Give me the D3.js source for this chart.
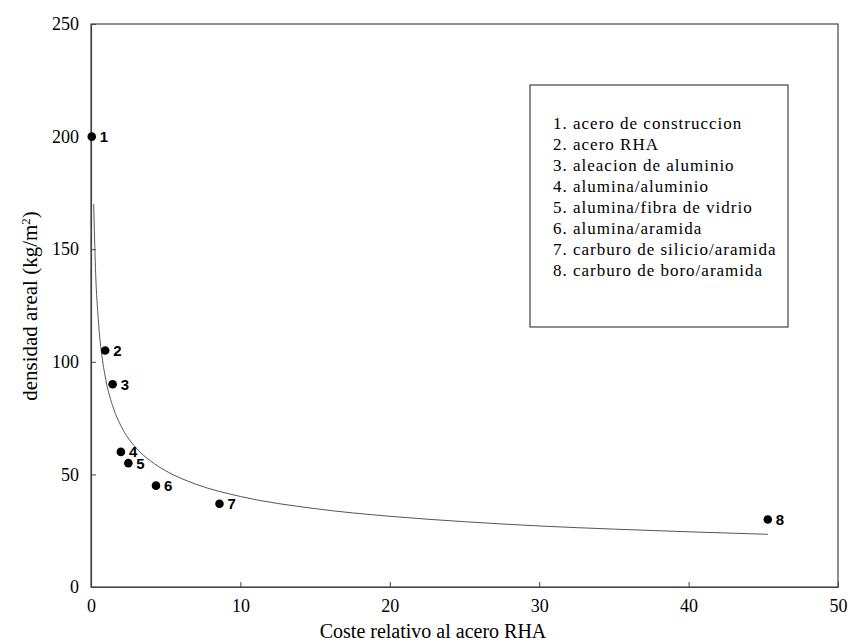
<!DOCTYPE html>
<html><head><meta charset="utf-8">
<script src="https://cdn.jsdelivr.net/npm/d3@7"></script>
<style>body{margin:0;background:#fff}svg{display:block}</style>
</head><body><svg id="c" width="853" height="643"></svg>
<script>
// Data
const ids = [1, 2, 3, 4, 5, 6, 7, 8];
const costs = [0.05, 0.95, 1.45, 2.0, 2.5, 4.35, 8.6, 45.3];
const densities = [200, 105, 90, 60, 55, 45, 37, 30];
const legendLabels = [
  "1. acero de construccion",
  "2. acero RHA",
  "3. aleacion de aluminio",
  "4. alumina/aluminio",
  "5. alumina/fibra de vidrio",
  "6. alumina/aramida",
  "7. carburo de silicio/aramida",
  "8. carburo de boro/aramida"
];
// trend curve
const curveX = [0.18, 0.3, 0.5, 0.75, 1, 1.5, 2, 3, 4, 5, 7, 10, 15, 20, 25, 30, 35, 40, 45.3];
const curveY = [170, 141.4, 117.7, 101.8, 91.8, 79.4, 71.6, 61.9, 55.9, 51.6, 45.7, 40.2, 34.8, 31.4, 29.0, 27.1, 25.7, 24.5, 23.4];
const xTicks = [0, 10, 20, 30, 40, 50];
const yTicks = [0, 50, 100, 150, 200, 250];

const svg = d3.select("#c");
const L = 91, R = 838, T = 24, B = 587;
const x = d3.scaleLinear().domain([0, 50]).range([L, R]);
const y = d3.scaleLinear().domain([0, 250]).range([B, T]);
const serif = "'Liberation Serif', 'Times New Roman', serif";
const axisColor = "#444";

// frame
svg.append("rect").attr("x", L).attr("y", T).attr("width", R - L).attr("height", B - T)
  .attr("fill", "none").attr("stroke", axisColor).attr("stroke-width", 1.2);

// axes with inward ticks
const xAxis = svg.append("g").attr("transform", `translate(0,${B})`)
  .call(d3.axisBottom(x).tickValues(xTicks).tickSizeInner(-5).tickSizeOuter(0).tickPadding(12));
const yAxis = svg.append("g").attr("transform", `translate(${L},0)`)
  .call(d3.axisLeft(y).tickValues(yTicks).tickSizeInner(-5).tickSizeOuter(0).tickPadding(12));
[xAxis, yAxis].forEach(g => {
  g.select(".domain").attr("stroke", axisColor).attr("stroke-width", 1.2);
  g.selectAll(".tick line").attr("stroke", axisColor);
  g.selectAll(".tick text").attr("font-family", serif).attr("font-size", 18).attr("fill", "#000");
});

// curve
const pts = curveX.map((v, i) => [v, curveY[i]]);
svg.append("path").datum(pts)
  .attr("d", d3.line().x(d => x(d[0])).y(d => y(d[1])).curve(d3.curveMonotoneX))
  .attr("fill", "none").attr("stroke", "#555").attr("stroke-width", 1);

// points
const data = ids.map((id, i) => ({id, c: costs[i], d: densities[i]}));
svg.append("g").selectAll("circle").data(data).join("circle")
  .attr("cx", d => x(d.c)).attr("cy", d => y(d.d)).attr("r", 4.3).attr("fill", "#000");
svg.append("g").selectAll("text").data(data).join("text")
  .attr("x", d => x(d.c) + 8).attr("y", d => y(d.d) + 5.5)
  .attr("font-family", "'Liberation Sans', Arial, sans-serif").attr("font-weight", "bold")
  .attr("font-size", 15).text(d => d.id);

// legend box
const lg = svg.append("g");
lg.append("rect").attr("x", 530).attr("y", 85).attr("width", 258).attr("height", 242)
  .attr("fill", "#fff").attr("stroke", axisColor).attr("stroke-width", 1.2);
lg.selectAll("text").data(legendLabels).join("text")
  .attr("x", 553).attr("y", (d, i) => 129 + i * 21)
  .attr("font-family", serif).attr("font-size", 17).attr("letter-spacing", 1).text(d => d);

// axis titles
svg.append("text").attr("x", 433).attr("y", 638).attr("text-anchor", "middle")
  .attr("font-family", serif).attr("font-size", 20).text("Coste relativo al acero RHA");
const yt = svg.append("text").attr("transform", "translate(37,306) rotate(-90)")
  .attr("text-anchor", "middle").attr("font-family", serif).attr("font-size", 21);
yt.append("tspan").text("densidad areal (kg/m");
yt.append("tspan").attr("baseline-shift", "super").attr("font-size", 13).text("2");
yt.append("tspan").text(")");
</script></body></html>
